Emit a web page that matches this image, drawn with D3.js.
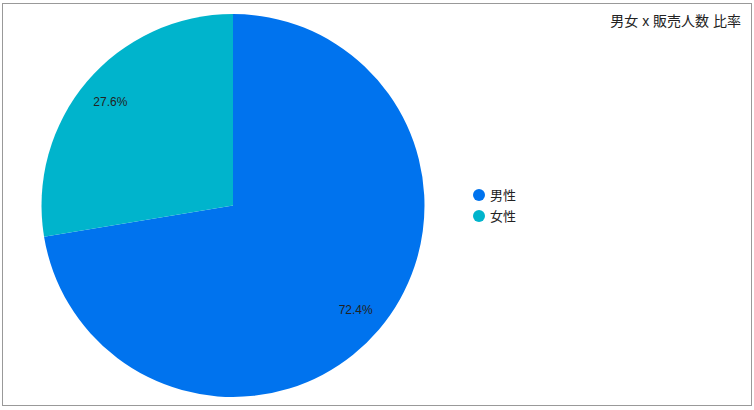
<!DOCTYPE html>
<html><head><meta charset="utf-8">
<script src="https://cdn.jsdelivr.net/npm/d3@7"></script>
<style>body{margin:0;background:#fff;}svg{display:block;font-family:"Liberation Sans","Noto Sans CJK JP",sans-serif;}</style>
</head><body>
<svg id="c" width="754" height="410"></svg>
<script>
const categories = ["男性", "女性"];
const values = [72.4, 27.6];
const colors = ["#0073ee", "#00b4cc"];
const title = "男女 x 販売人数 比率";

const svg = d3.select("#c");
svg.append("rect").attr("x", 2.5).attr("y", 3.5).attr("width", 749).attr("height", 402)
  .attr("fill", "#fff").attr("stroke", "#999").attr("stroke-width", 1);

const cx = 233, cy = 205.5, R = 191.5;
const data = categories.map((c, i) => ({ name: c, value: values[i], color: colors[i] }));
const pie = d3.pie().value(d => d.value).sort(null);
const arcs = pie(data);
const arc = d3.arc().innerRadius(0).outerRadius(R);
const labelArc = d3.arc().innerRadius(R * 0.84).outerRadius(R * 0.84);
const g = svg.append("g").attr("transform", `translate(${cx},${cy})`);
g.selectAll("path").data(arcs).enter().append("path")
  .attr("d", arc).attr("fill", d => d.data.color);
g.selectAll("text").data(arcs).enter().append("text")
  .attr("transform", d => `translate(${labelArc.centroid(d)})`)
  .attr("text-anchor", "middle").attr("dy", "0.35em")
  .attr("font-size", 12).attr("fill", "#222")
  .text(d => d3.format(".1f")(d.data.value) + "%");

svg.append("text").attr("x", 741).attr("y", 26).attr("text-anchor", "end")
  .attr("font-size", 14).attr("fill", "#222").text(title);

const lg = svg.append("g");
data.forEach((d, i) => {
  const y = 195 + i * 21;
  lg.append("circle").attr("cx", 479).attr("cy", y).attr("r", 6).attr("fill", d.color);
  lg.append("text").attr("x", 490).attr("y", y).attr("dy", "0.35em")
    .attr("font-size", 13).attr("fill", "#222").text(d.name);
});
</script>
</body></html>
